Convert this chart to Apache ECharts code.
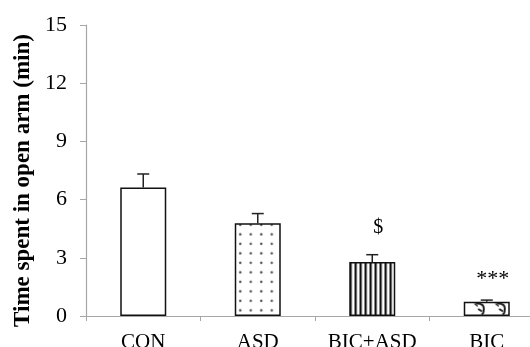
<!DOCTYPE html>
<html>
<head>
<meta charset="utf-8">
<script src="https://cdn.jsdelivr.net/npm/echarts@6/dist/echarts.min.js"></script>
<style>
  html, body { margin: 0; padding: 0; background: #fff; }
  #chart { width: 530px; height: 347px; }
</style>
</head>
<body>
<div id="chart"></div>
<script>
// Groups, mean time in open arm (min), upper SEM and significance marks
const categories = ['CON', 'ASD', 'BIC+ASD', 'BIC'];
const meanValues = [6.62, 4.78, 2.78, 0.73];
const semValues = [0.70, 0.50, 0.38, 0.09];
const markTexts = ['', '', '$', '***'];
const yTicks = [0, 3, 6, 9, 12, 15];

const SERIF = '"Liberation Serif", "Times New Roman", serif';
const BAR_W = 46;

// Fill patterns drawn on small canvases
function makeTile(w, h, draw) {
  const c = document.createElement('canvas');
  c.width = w; c.height = h;
  const ctx = c.getContext('2d');
  ctx.fillStyle = '#fff';
  ctx.fillRect(0, 0, w, h);
  draw(ctx);
  return c;
}
const dotTile = makeTile(21, 19, ctx => {
  ctx.fillStyle = '#4a4a4a';
  [[0, 0], [10.5, 0], [0, 9.5], [10.5, 9.5]].forEach(([dx, dy]) => {
    ctx.beginPath();
    ctx.arc(dx + 5, dy + 5, 1.2, 0, Math.PI * 2);
    ctx.fill();
  });
});
const stripeTile = makeTile(5, 4, ctx => {
  ctx.fillStyle = '#111';
  ctx.fillRect(0, 0, 2, 4);
  ctx.fillStyle = '#9a9a9a';
  ctx.fillRect(2, 0, 0.6, 4);
});
// curled hook shape, two per bar width
const curlTile = makeTile(21, 16, ctx => {
  ctx.strokeStyle = '#1a1a1a';
  ctx.lineWidth = 2;
  ctx.lineCap = 'round';
  ctx.beginPath();
  ctx.moveTo(11, 2.5);
  ctx.quadraticCurveTo(18, 2.5, 18, 7.5);
  ctx.quadraticCurveTo(18, 12.5, 16.5, 13);
  ctx.stroke();
  ctx.beginPath();
  ctx.moveTo(13, 8.5);
  ctx.lineTo(15.5, 10);
  ctx.stroke();
  ctx.lineWidth = 1.3;
  ctx.beginPath();
  ctx.moveTo(9, 3);
  ctx.lineTo(11.5, 5);
  ctx.stroke();
});

function buildOption(offsets) {
  const fills = [
    '#ffffff',
    { image: dotTile, repeat: 'repeat', x: offsets[1][0], y: offsets[1][1] },
    { image: stripeTile, repeat: 'repeat', x: offsets[2][0], y: offsets[2][1] },
    { image: curlTile, repeat: 'repeat', x: offsets[3][0], y: offsets[3][1] }
  ];
  const barData = meanValues.map((v, i) => ({
    value: v,
    itemStyle: { color: fills[i], borderColor: '#111', borderWidth: 1.5 }
  }));
  const errData = meanValues.map((v, i) => [i, v, v + semValues[i]]);

  return {
    animation: false,
    grid: { left: 86, top: 25, bottom: 31, width: 458, outerBoundsMode: 'none', containLabel: false },
    xAxis: {
      type: 'category',
      data: categories,
      axisLine: { lineStyle: { color: '#a6a6a6', width: 1.2 } },
      axisTick: { show: true, length: 5, lineStyle: { color: '#a6a6a6' } },
      axisLabel: { color: '#000', fontFamily: SERIF, fontSize: 21, margin: 16, interval: 0, hideOverlap: false }
    },
    yAxis: {
      type: 'value',
      min: 0, max: 15, interval: 3,
      name: 'Time spent in open arm (min)',
      nameLocation: 'middle',
      nameGap: 50,
      nameTextStyle: {
        color: '#000', fontFamily: SERIF, fontSize: 23, fontWeight: 'bold',
        padding: [0, 20, 0, 0]
      },
      axisLine: { show: true, lineStyle: { color: '#a6a6a6', width: 1.2 } },
      axisTick: { show: true, length: 6, lineStyle: { color: '#a6a6a6' } },
      splitLine: { show: false },
      axisLabel: {
        color: '#000', fontFamily: SERIF, fontSize: 22, margin: 19,
        formatter: v => (yTicks.indexOf(v) >= 0 ? String(v) : '')
      }
    },
    series: [
      {
        type: 'bar',
        data: barData,
        barWidth: BAR_W
      },
      {
        type: 'custom',
        data: errData,
        z: 5,
        renderItem: function (params, api) {
          const base = api.coord([api.value(0), api.value(1)]);
          const top = api.coord([api.value(0), api.value(2)]);
          const cap = 6;
          const style = { stroke: '#222', lineWidth: 1.5 };
          const children = [
            { type: 'line', shape: { x1: top[0], y1: base[1], x2: top[0], y2: top[1] }, style },
            { type: 'line', shape: { x1: top[0] - cap, y1: top[1], x2: top[0] + cap, y2: top[1] }, style }
          ];
          const mark = markTexts[params.dataIndex];
          if (mark) {
            // asterisks sit high in the em box, so they need less lift
            const isStar = mark.indexOf('*') >= 0;
            const lift = isStar ? 21 : 27;
            children.push({
              type: 'text',
              x: top[0] + 6, y: top[1] - lift,
              style: {
                text: mark, fill: '#000',
                font: (isStar ? '22px ' : '20px ') + SERIF,
                align: 'center', verticalAlign: 'middle'
              }
            });
          }
          return { type: 'group', children };
        }
      }
    ]
  };
}

const chart = echarts.init(document.getElementById('chart'), null, { renderer: 'canvas' });
const zero = [[0, 0], [0, 0], [0, 0], [0, 0]];
chart.setOption(buildOption(zero));
// anchor each fill pattern to the top-left corner of its bar
const offsets = meanValues.map((v, i) => {
  const p = chart.convertToPixel({ seriesIndex: 0 }, [i, v]);
  return [p[0] - BAR_W / 2, p[1]];
});
offsets[1] = [offsets[1][0] + 0.5, offsets[1][1] - 3.5];
offsets[2] = [offsets[2][0] + 0.2, offsets[2][1]];
offsets[3] = [offsets[3][0] + 2, offsets[3][1] - 1];
chart.setOption(buildOption(offsets));
</script>
</body>
</html>
